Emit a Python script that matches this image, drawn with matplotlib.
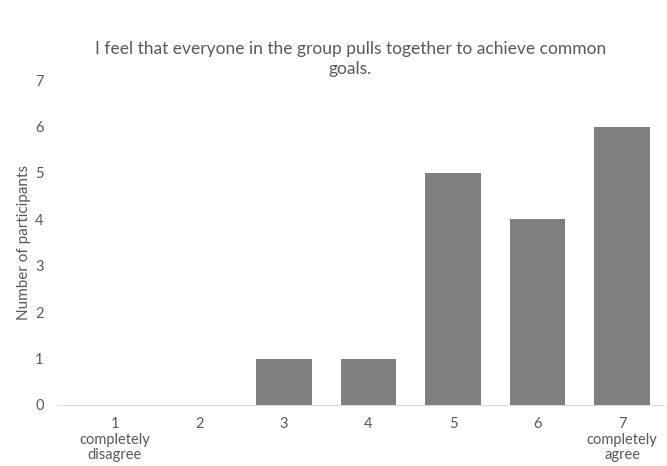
import matplotlib.pyplot as plt

# survey responses, 7-point scale
categories = ["1\ncompletely\ndisagree", "2", "3", "4", "5", "6", "7\ncompletely\nagree"]
counts = [0, 0, 1, 1, 5, 4, 6]
y_ticks = [0, 1, 2, 3, 4, 5, 6, 7]

plt.rcParams['font.family'] = ['Lato', 'DejaVu Sans']
text_col = "#595959"

fig = plt.figure(figsize=(6.67, 4.66), dpi=100)
ax = fig.add_axes([0.109, 0.131, 0.887, 0.697])

x = range(len(categories))
ax.bar(x, counts, width=0.66, color="#7f7f7f")

ax.set_xlim(-0.5, len(categories) - 0.5)
ax.set_ylim(0, 7)
ax.set_yticks(y_ticks)
ax.set_xticks(list(x))
ax.set_xticklabels(categories, fontsize=10.5, color=text_col, linespacing=1.1)
ax.tick_params(axis='y', labelsize=10.5, labelcolor=text_col, length=0, pad=21)
ax.tick_params(axis='x', length=0, pad=9)

for s in ['top', 'right', 'left']:
    ax.spines[s].set_visible(False)
ax.spines['bottom'].set_color("#d9d9d9")
ax.spines['bottom'].set_bounds(-0.5 - 0.18, len(categories) - 0.5)

ax.set_ylabel("Number of participants", fontsize=11, color=text_col, labelpad=3)
fig.text(0.525, 0.873, "I feel that everyone in the group pulls together to achieve common\ngoals.",
         ha='center', va='center', fontsize=12.5, color=text_col, linespacing=1.3)

plt.savefig("out.png", dpi=100)
